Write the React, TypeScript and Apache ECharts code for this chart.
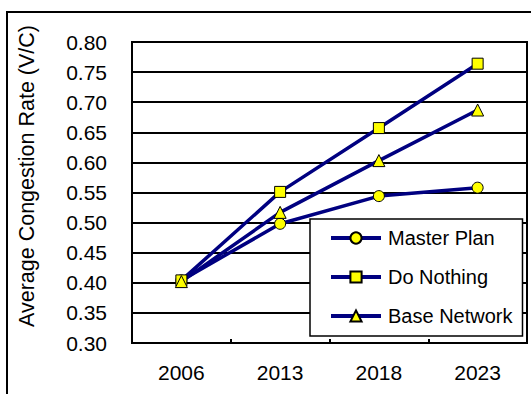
import React, { useEffect, useRef } from "react";
import * as echarts from "echarts";

const years = ["2006", "2013", "2018", "2023"];
const masterPlan = [0.404, 0.498, 0.544, 0.558];
const doNothing = [0.404, 0.551, 0.657, 0.764];
const baseNetwork = [0.402, 0.517, 0.603, 0.687];
const seriesNames = ["Master Plan", "Do Nothing", "Base Network"];
const yAxisTitle = "Average Congestion Rate (V/C)";

const FONT = "'Liberation Sans', Arial, sans-serif";
const NAVY = "#000080";
const YELLOW = "#FFFF00";

export default function App() {
  const ref = useRef<HTMLDivElement>(null);
  useEffect(() => {
    document.body.style.margin = "0";
    const chart = echarts.init(ref.current!, null, { renderer: "svg" });
    const mk = (name: string, data: number[], symbol: string, size: number) => ({
      name,
      type: "line",
      data,
      symbol,
      symbolSize: size,
      showAllSymbol: true,
      lineStyle: { color: NAVY, width: 3.5 },
      itemStyle: { color: YELLOW, borderColor: "#000000", borderWidth: 1 },
      emphasis: { disabled: true },
    });
    chart.setOption({
      animation: false,
      textStyle: { fontFamily: FONT },
      grid: { left: 132, top: 42, right: 4, bottom: 51, show: true, borderColor: "#000", borderWidth: 2 },
      xAxis: {
        type: "category",
        data: years,
        boundaryGap: true,
        axisLine: { lineStyle: { color: "#000", width: 2 } },
        axisTick: { show: true, inside: true, length: 4, lineStyle: { color: "#000", width: 2 } },
        axisLabel: { color: "#000", fontSize: 21, fontFamily: FONT, margin: 19 },
      },
      yAxis: {
        type: "value",
        min: 0.3,
        max: 0.8,
        interval: 0.05,
        axisLine: { show: true, lineStyle: { color: "#000", width: 2 } },
        axisTick: { show: false },
        splitLine: { show: true, lineStyle: { color: "#000", width: 2 } },
        axisLabel: {
          color: "#000",
          fontSize: 21,
          fontFamily: FONT,
          margin: 25,
          formatter: (v: number) => v.toFixed(2),
        },
      },
      legend: {
        data: seriesNames,
        orient: "vertical",
        left: 310,
        top: 219,
        padding: [9, 10, 10, 19],
        itemGap: 19,
        itemWidth: 50,
        itemHeight: 14,
        backgroundColor: "#fff",
        borderColor: "#000",
        borderWidth: 1.5,
        borderRadius: 0,
        lineStyle: { width: 4 },
        textStyle: { color: "#000", fontSize: 20, fontFamily: FONT, padding: [0, 0, 0, 2] },
      },
      graphic: [
        {
          type: "rect",
          shape: { x: 7, y: 12, width: 700, height: 600 },
          style: { fill: "none", stroke: "#000", lineWidth: 2 },
          silent: true,
        },
        {
          type: "text",
          x: 27,
          y: 176,
          rotation: Math.PI / 2,
          style: {
            text: yAxisTitle,
            fontSize: 21.5,
            fontFamily: FONT,
            fill: "#000",
            align: "center",
            verticalAlign: "middle",
          },
          silent: true,
        },
      ],
      series: [
        mk(seriesNames[0], masterPlan, "circle", 11),
        mk(seriesNames[1], doNothing, "rect", 11),
        mk(seriesNames[2], baseNetwork, "triangle", 12),
      ],
    });
    return () => chart.dispose();
  }, []);
  return <div ref={ref} style={{ width: 531, height: 394 }} />;
}
